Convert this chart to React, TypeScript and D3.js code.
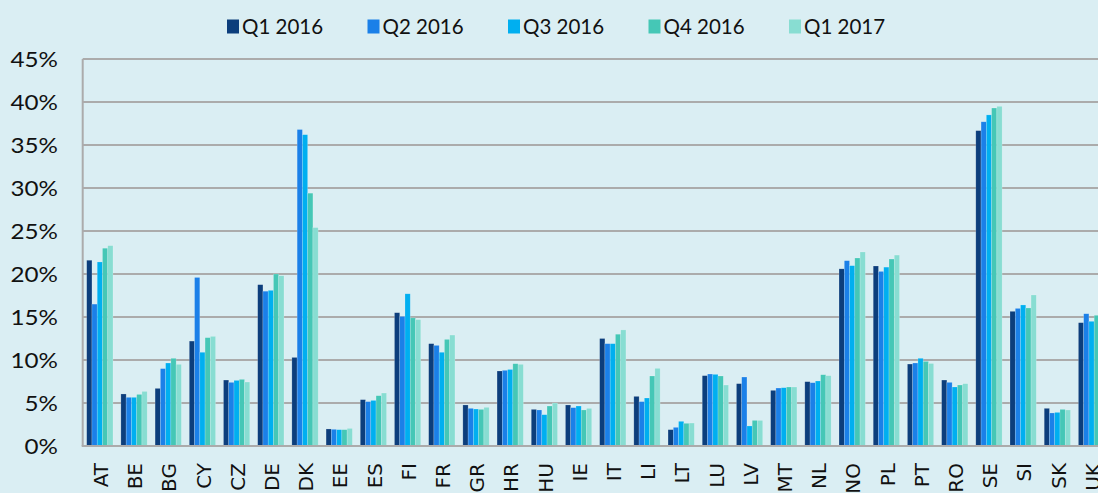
import React from "react";
import * as d3 from "d3";

const categories = ["AT","BE","BG","CY","CZ","DE","DK","EE","ES","FI","FR","GR","HR","HU","IE","IT","LI","LT","LU","LV","MT","NL","NO","PL","PT","RO","SE","SI","SK","UK"];
const seriesNames = ["Q1 2016","Q2 2016","Q3 2016","Q4 2016","Q1 2017"];
const seriesColors = ["#0c3e7c","#1b80e8","#00aff0","#45c7b6","#88ddd2"];

const q1_2016 = [21.6,6.05,6.7,12.2,7.67,18.76,10.3,1.98,5.39,15.5,11.9,4.77,8.72,4.26,4.77,12.5,5.77,1.9,8.18,7.25,6.47,7.48,20.6,20.93,9.53,7.67,36.67,15.66,4.38,14.34];
const q2_2016 = [16.5,5.66,9.0,19.6,7.4,18.0,36.8,1.94,5.16,15.07,11.7,4.38,8.8,4.19,4.46,11.9,5.16,2.17,8.37,8.02,6.74,7.36,21.55,20.3,9.65,7.4,37.7,16.0,3.84,15.38];
const q3_2016 = [21.4,5.66,9.65,10.9,7.63,18.1,36.2,1.9,5.3,17.7,10.9,4.3,8.9,3.64,4.65,11.9,5.58,2.87,8.33,2.33,6.78,7.56,20.97,20.8,10.2,6.86,38.5,16.4,3.91,14.5];
const q4_2016 = [23.0,6.0,10.2,12.6,7.75,20.0,29.4,1.9,5.85,14.9,12.4,4.26,9.57,4.65,4.19,13.0,8.14,2.64,8.14,2.98,6.86,8.29,21.86,21.74,9.84,7.09,39.3,16.05,4.26,15.2];
const q1_2017 = [23.3,6.35,9.5,12.75,7.44,19.8,25.4,2.05,6.16,14.7,12.9,4.5,9.5,5.0,4.38,13.5,9.03,2.67,7.09,2.98,6.86,8.18,22.56,22.2,9.6,7.25,39.5,17.56,4.19,15.5];
const seriesValues = [q1_2016,q2_2016,q3_2016,q4_2016,q1_2017];
const yTicks = [0,5,10,15,20,25,30,35,40,45];

const W = 1098, H = 493;
const FONT = "'DejaVu Sans', sans-serif";
const LFONT = "Lato, 'Open Sans', sans-serif";

export default function App() {
  const x = d3.scaleBand<string>().domain(categories).range([82.7, 1108.7]).paddingInner(0.231).paddingOuter(0.117);
  const xi = d3.scaleBand<string>().domain(seriesNames).range([0, x.bandwidth()]).padding(0);
  const y = d3.scaleLinear().domain([0, 45]).range([446, 59]);
  const gridColor = "#ababab";
  return (
    <div style={{ position: "absolute", left: 0, top: 0 }}>
      <svg width={W} height={H} style={{ display: "block" }}>
        <rect x={0} y={0} width={W} height={H} fill="#daeef3" />
        {yTicks.map((t) => (
          <g key={t}>
            {t > 0 && <line x1={82.7} x2={W} y1={y(t)} y2={y(t)} stroke={gridColor} strokeWidth={1.8} />}
            <text x={58} y={y(t)} dy="0.36em" textAnchor="end" fontFamily={LFONT} fontSize={22} fill="#111" transform={`translate(58,0) scale(1.1,1) translate(-58,0)`}>{t}%</text>
          </g>
        ))}
        {categories.map((c, ci) => (
          <g key={c} transform={`translate(${x(c)},0)`}>
            {seriesNames.map((s, si) => {
              const v = seriesValues[si][ci];
              return (
                <rect key={s} x={xi(s)} y={y(v)} width={xi.bandwidth()} height={y(0) - y(v)} fill={seriesColors[si]} stroke="rgba(255,255,255,0.3)" strokeWidth={0.6} />
              );
            })}
          </g>
        ))}
        <line x1={82.7} x2={82.7} y1={59} y2={446} stroke={gridColor} strokeWidth={2} />
        <line x1={81.7} x2={W} y1={446} y2={446} stroke={gridColor} strokeWidth={2.2} />
        {categories.map((c) => (
          <text key={c} transform={`translate(${(x(c) as number) + x.bandwidth() / 2 + 1},463) rotate(-90)`} dy="0.36em" textAnchor="end" fontFamily={FONT} fontSize={20} fill="#111">{c}</text>
        ))}
        {seriesNames.map((s, i) => {
          const lx = 227 + i * 140.5;
          return (
            <g key={s}>
              <rect x={lx} y={19.5} width={12} height={14} fill={seriesColors[i]} />
              <text x={lx + 15} y={34} fontFamily={LFONT} fontSize={20.5} fill="#111">{s}</text>
            </g>
          );
        })}
      </svg>
    </div>
  );
}
